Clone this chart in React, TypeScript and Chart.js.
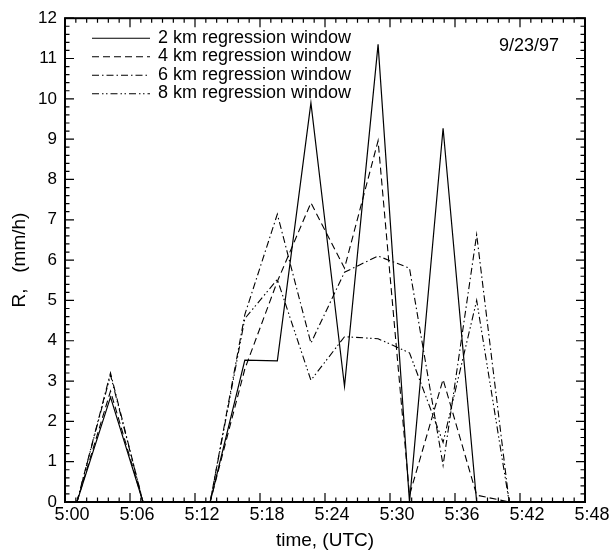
import React, { useEffect, useRef } from 'react';
import { Chart, registerables } from 'chart.js';

Chart.register(...registerables);

// minutes after 5:00 UTC
const timesMin = [1.1, 4.2, 7.2, 10.3, 13.4, 16.6, 19.6, 22.7, 25.8, 28.9, 31.8, 34.9, 38.0, 41.0];
const km2 = [0, 2.6, 0, 0, 0, 3.52, 3.5, 9.9, 2.87, 11.35, 0, 9.27, 0, 0];
const km4 = [0, 2.75, 0, 0, 0, 3.3, 5.47, 7.42, 5.8, 8.96, 0.17, 3.04, 0.17, 0];
const km6 = [0, 3.2, 0, 0, 0, 4.65, 7.14, 3.94, 5.7, 6.1, 5.8, 0.91, 6.63, 0];
const km8 = [0, 3.15, 0, 0, 0, 4.55, 5.52, 3.02, 4.1, 4.05, 3.7, 1.48, 5.0, 0];

const seriesLabels = [
  '2 km regression window',
  '4 km regression window',
  '6 km regression window',
  '8 km regression window',
];

const xTickValues = [0, 6, 12, 18, 24, 30, 36, 42, 48];
const xTickLabels = ['5:00', '5:06', '5:12', '5:18', '5:24', '5:30', '5:36', '5:42', '5:48'];
const yMin = 0;
const yMax = 12;
const xMinorStep = 1;
const yMinorStep = 0.2;
const dateLabel = '9/23/97';
const xTitle = 'time, (UTC)';
const yTitle = 'R,   (mm/h)';

const FONT = '"Liberation Sans", Arial, Helvetica, sans-serif';

function toPoints(vals: number[]) {
  return vals.map((v, i) => ({ x: timesMin[i], y: v }));
}

const framePlugin = {
  id: 'frameAndLegend',
  afterDatasetsDraw(chart: any) {
    const { ctx, chartArea: a, scales } = chart;
    const xs = scales.x;
    const ys = scales.y;
    ctx.save();
    ctx.strokeStyle = '#000';
    ctx.lineWidth = 1.2;
    ctx.setLineDash([]);
    ctx.beginPath();
    const xMax = xTickValues[xTickValues.length - 1];
    const nx = Math.round((xMax - xTickValues[0]) / xMinorStep);
    for (let k = 0; k <= nx; k++) {
      const m = xTickValues[0] + k * xMinorStep;
      const px = xs.getPixelForValue(m);
      const len = xTickValues.includes(m) ? 9 : 4.5;
      ctx.moveTo(px, a.bottom);
      ctx.lineTo(px, a.bottom - len);
      ctx.moveTo(px, a.top);
      ctx.lineTo(px, a.top + len);
    }
    const ny = Math.round((yMax - yMin) / yMinorStep);
    for (let k = 0; k <= ny; k++) {
      const v = yMin + k * yMinorStep;
      const py = ys.getPixelForValue(v);
      const len = k % 5 === 0 ? 9 : 4.5;
      ctx.moveTo(a.left, py);
      ctx.lineTo(a.left + len, py);
      ctx.moveTo(a.right, py);
      ctx.lineTo(a.right - len, py);
    }
    ctx.stroke();
    ctx.lineWidth = 2;
    ctx.strokeRect(a.left, a.top, a.right - a.left, a.bottom - a.top);

    // legend
    ctx.font = `18px ${FONT}`;
    ctx.fillStyle = '#000';
    ctx.textAlign = 'left';
    ctx.textBaseline = 'alphabetic';
    chart.data.datasets.forEach((ds: any, i: number) => {
      const ly = a.top + 20 + 18.5 * i;
      ctx.beginPath();
      ctx.lineWidth = 1.1;
      ctx.setLineDash(ds.borderDash || []);
      ctx.moveTo(a.left + 27, ly);
      ctx.lineTo(a.left + 85, ly);
      ctx.stroke();
      ctx.setLineDash([]);
      ctx.fillText(ds.label, a.left + 93, ly + 4.5);
    });

    ctx.textAlign = 'right';
    ctx.fillText(dateLabel, a.right - 26, a.top + 33);
    ctx.restore();
  },
};

export default function App() {
  const ref = useRef<HTMLCanvasElement | null>(null);

  useEffect(() => {
    if (!ref.current) return;
    const chart = new Chart(ref.current, {
      type: 'line',
      data: {
        datasets: [
          { label: seriesLabels[0], data: toPoints(km2), borderColor: '#000', borderWidth: 1.2, borderDash: [] },
          { label: seriesLabels[1], data: toPoints(km4), borderColor: '#000', borderWidth: 1.1, borderDash: [7, 4] },
          { label: seriesLabels[2], data: toPoints(km6), borderColor: '#000', borderWidth: 1.1, borderDash: [7, 3, 1.5, 3] },
          { label: seriesLabels[3], data: toPoints(km8), borderColor: '#000', borderWidth: 1.1, borderDash: [7, 3, 1.5, 2.5, 1.5, 3] },
        ] as any,
      },
      options: {
        animation: false,
        responsive: false,
        devicePixelRatio: 1,
        events: [],
        elements: { point: { radius: 0 }, line: { tension: 0 } },
        layout: { padding: { left: 0, right: 28, top: 14, bottom: 0 } },
        plugins: {
          legend: { display: false },
          tooltip: { enabled: false },
          title: { display: false },
        },
        scales: {
          x: {
            type: 'linear',
            min: xTickValues[0],
            max: xTickValues[xTickValues.length - 1],
            afterFit: (s: any) => { s.height = 52; },
            afterBuildTicks: (s: any) => { s.ticks = xTickValues.map((v) => ({ value: v })); },
            grid: { display: false, drawTicks: false },
            border: { display: false },
            ticks: {
              autoSkip: false,
              maxRotation: 0,
              padding: 2,
              labelOffset: 7,
              color: '#000',
              font: { family: FONT, size: 18 },
              callback: (v: any) => {
                const idx = xTickValues.indexOf(Number(v));
                return idx >= 0 ? xTickLabels[idx] : '';
              },
            },
            title: {
              display: true,
              text: xTitle,
              color: '#000',
              font: { family: FONT, size: 19 },
              padding: { top: 0, bottom: 2 },
            },
          },
          y: {
            type: 'linear',
            min: yMin,
            max: yMax,
            afterFit: (s: any) => { s.width = 65; },
            grid: { display: false, drawTicks: false },
            border: { display: false },
            ticks: {
              stepSize: 1,
              padding: 8,
              color: '#000',
              font: { family: FONT, size: 17 },
            },
            title: {
              display: true,
              text: yTitle,
              color: '#000',
              font: { family: FONT, size: 19 },
              padding: { top: 8, bottom: 0 },
            },
          },
        },
      } as any,
      plugins: [framePlugin],
    });
    return () => chart.destroy();
  }, []);

  return (
    <div style={{ position: 'fixed', left: 0, top: 0, width: 613, height: 554, background: '#fff' }}>
      <canvas ref={ref} width={613} height={554} style={{ width: 613, height: 554, display: 'block' }} />
    </div>
  );
}
